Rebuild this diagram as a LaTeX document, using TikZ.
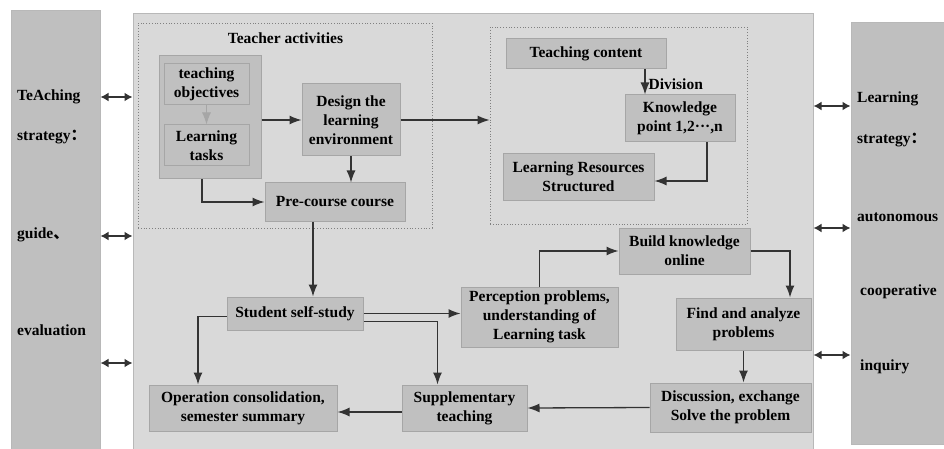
\documentclass[tikz,border=0pt]{standalone}
\usepackage{fontspec}
\setmainfont{Liberation Serif}
\newfontfamily\cjk{Noto Sans CJK SC}
\usepackage{tikz}
\usetikzlibrary{arrows.meta,positioning}
\definecolor{bargray}{HTML}{BFBFBF}
\definecolor{panelgray}{HTML}{D9D9D9}
\definecolor{boxgray}{HTML}{C0C0C0}
\definecolor{edgegray}{HTML}{A6A6A6}
\definecolor{linegray}{HTML}{333333}
\tikzset{rec/.style={rectangle,draw=edgegray,fill=boxgray,line width=1pt,align=center,inner sep=0pt,font=\bfseries\fontsize{15.5}{19}\selectfont}}
\tikzset{bar/.style={rectangle,draw=edgegray!80,fill=bargray,line width=1pt,inner sep=0pt}}
\tikzset{grp/.style={rectangle,draw=gray,dotted,line width=0.8pt,inner sep=0pt}}
\tikzset{txt/.style={anchor=west,inner sep=0pt,font=\bfseries\fontsize{15.5}{19}\selectfont}}
\tikzset{con/.style={draw=linegray,line width=1.3pt,-{Latex[length=12pt,width=9pt]}}}
\tikzset{dbl/.style={draw=linegray,line width=2.2pt,{Latex[length=8pt,width=9pt]}-{Latex[length=8pt,width=9pt]}}}

\begin{document}
\begin{tikzpicture}[x=1pt,y=-1pt]
        \useasboundingbox (0,0) rectangle (944,449);
        % side bars and main panel
        \node[bar,minimum width=89pt,minimum height=445pt] (lbar) at (55.5,233) {};
        \node[bar,minimum width=95pt,minimum height=421pt] (rbar) at (898.5,233.5) {};
        \node[rectangle,draw=edgegray!80,fill=panelgray,line width=1pt,minimum width=680pt,minimum height=440pt] (panel) at (473,234) {};

        \node[txt] (lt1) at (17,97) {TeAching};
        \node[txt] (lt2) at (17,137) {strategy{\cjk ：}};
        \node[txt] (lt3) at (17,235) {guide{\cjk 、}};
        \node[txt] (lt4) at (17,330) {evaluation};

        \node[txt] (rt1) at (857,99) {Learning};
        \node[txt] (rt2) at (857,140) {strategy{\cjk ：}};
        \node[txt] (rt3) at (857,217) {autonomous};
        \node[txt] (rt4) at (860,292) {cooperative};
        \node[txt] (rt5) at (860,367) {inquiry};

        % teacher activities
        \node[grp,minimum width=294pt,minimum height=205pt] (ta) at (285,125.5) {};
        \node[txt,anchor=center] (tatitle) at (285.5,38) {Teacher activities};
        \node[rec,minimum width=102pt,minimum height=123pt] (group) at (210,117.5) {};
        \node[rec,minimum width=85pt,minimum height=41pt] (obj) at (206.5,84.5) {teaching\\objectives};
        \node[rec,minimum width=85pt,minimum height=41pt] (tasks) at (206.5,145.5) {Learning\\tasks};
        \node[rec,minimum width=98pt,minimum height=72pt] (design) at (351,120) {Design the\\learning\\environment};
        \node[rec,minimum width=140pt,minimum height=38pt] (pre) at (335,202) {Pre-course course};

        % teaching content
        \node[grp,minimum width=257pt,minimum height=197pt] (cb) at (618.5,125.5) {};
        \node[rec,minimum width=160pt,minimum height=30pt] (content) at (586,54) {Teaching content};
        \node[rec,minimum width=110pt,minimum height=47pt] (know) at (680,118.5) {Knowledge\\point 1,2\textperiodcentered\textperiodcentered\textperiodcentered,n};
        \node[rec,minimum width=151pt,minimum height=46pt] (res) at (578.5,177) {Learning Resources\\Structured};

        % student side
        \node[rec,minimum width=136pt,minimum height=33pt] (ss) at (295,313.5) {Student self-study};
        \node[rec,minimum width=157pt,minimum height=60pt] (per) at (539.5,317) {Perception problems,\\understanding of\\Learning task};
        \node[rec,minimum width=131pt,minimum height=46pt] (build) at (684.5,251) {Build knowledge\\online};
        \node[rec,minimum width=135pt,minimum height=52pt] (find) at (743.5,324) {Find and analyze\\problems};
        \node[rec,minimum width=161pt,minimum height=49pt] (disc) at (730.5,407.5) {Discussion, exchange\\Solve the problem};
        \node[rec,minimum width=125pt,minimum height=46pt] (sup) at (464.5,408) {Supplementary\\teaching};
        \node[rec,minimum width=188pt,minimum height=46pt] (op) at (243,408) {Operation consolidation,\\semester summary};

        \draw [dbl] (lbar.east |- 0,97) -- (panel.west |- 0,97);
        \draw [dbl] (lbar.east |- 0,236) -- (panel.west |- 0,236);
        \draw [dbl] (lbar.east |- 0,363) -- (panel.west |- 0,363);
        \draw [dbl] (panel.east |- 0,106) -- (rbar.west |- 0,106);
        \draw [dbl] (panel.east |- 0,228) -- (rbar.west |- 0,228);
        \draw [dbl] (panel.east |- 0,355) -- (rbar.west |- 0,355);

        \draw [con,draw=gray!70,line width=1pt] (obj) -- (tasks);
        \draw [con] (group.east |- design.west) -- (design.west);
        \draw [con] ([xshift=-8pt]group.south) |- (pre.west);
        \draw [con] (design.south) -- (design.south |- pre.north);
        \draw [con] (design.east) -- (cb.west |- design.east);
        \draw [con] ([xshift=59pt]content.south) -- ([xshift=59pt]content.south |- know.north) node[txt,pos=0.6,xshift=3pt] {Division};
        \draw [con] ([xshift=27pt]know.south) |- ([yshift=-4pt]res.east);

        \draw [con] ([xshift=-22pt]pre.south) -- ([xshift=-22pt]pre.south |- ss.north);
        \draw [con] (ss.east) -- (per.west |- ss.east);
        \draw [con] ([yshift=-8pt]ss.east) -| ([xshift=-27pt]sup.north);
        \draw [con] ([yshift=-3pt]ss.west) -| ([xshift=-45pt]op.north);
        \draw [con] (per.north) |- (build.west);
        \draw [con] (build.east) -| ([xshift=46.5pt]find.north);
        \draw [con] (find.south) -- (find.south |- disc.north);
        \draw [con] (disc.west) -- (sup.east);
        \draw [con] ([yshift=-4pt]sup.west) -- ([yshift=-4pt]op.east);
    \end{tikzpicture}
\end{document}
